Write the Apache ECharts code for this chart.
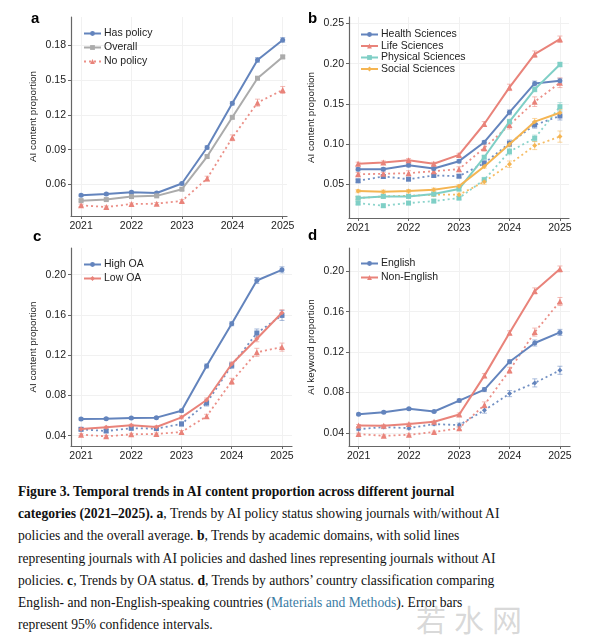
<!DOCTYPE html>
<html>
<head>
<meta charset="utf-8">
<script src="https://cdn.jsdelivr.net/npm/echarts@6/dist/echarts.min.js"></script>
<style>
html,body{margin:0;padding:0;background:#fff;}
#chart{position:absolute;left:0;top:0;width:600px;height:470px;}
#cap{position:absolute;left:18px;top:481px;width:590px;font-family:"Liberation Serif","Times New Roman",serif;font-size:13.6px;line-height:22.2px;color:#111;white-space:nowrap;}
#cap b{font-weight:bold;}
#cap .lk{color:#3a7ca5;}
#wm{position:absolute;left:416px;top:596px;font-family:"Noto Sans CJK SC",sans-serif;font-size:30px;letter-spacing:8px;color:rgba(170,170,170,0.45);}
</style>
</head>
<body>
<div id="chart"></div>
<div id="cap">
<b>Figure 3. Temporal trends in AI content proportion across different journal</b><br>
<b>categories (2021–2025). a</b>, Trends by AI policy status showing journals with/without AI<br>
policies and the overall average. <b>b</b>, Trends by academic domains, with solid lines<br>
representing journals with AI policies and dashed lines representing journals without AI<br>
policies. <b>c</b>, Trends by OA status. <b>d</b>, Trends by authors’ country classification comparing<br>
English- and non-English-speaking countries (<span class="lk">Materials and Methods</span>). Error bars<br>
represent 95% confidence intervals.
</div>
<div id="wm">若水网</div>
<script>
// x positions (half-year steps)
const years = [2021, 2021.5, 2022, 2022.5, 2023, 2023.5, 2024, 2024.5, 2025];
const yearTicks = [2021, 2022, 2023, 2024, 2025];

// Panel a
const aHasPolicy = [0.0508, 0.0519, 0.0534, 0.0528, 0.0609, 0.0919, 0.1298, 0.1671, 0.1843];
const aOverall   = [0.0462, 0.0471, 0.0497, 0.0503, 0.0560, 0.0841, 0.1178, 0.1514, 0.1697];
const aNoPolicy  = [0.0422, 0.0407, 0.0433, 0.0436, 0.0459, 0.0652, 0.1002, 0.1304, 0.1413];
// 95% CI half-widths
const aHasPolicyErr = [0.001, 0.001, 0.001, 0.001, 0.001, 0.0015, 0.0015, 0.002, 0.002];
const aOverallErr   = [0.0008, 0.0008, 0.0008, 0.0008, 0.001, 0.0012, 0.0012, 0.0015, 0.0015];
const aNoPolicyErr  = [0.001, 0.001, 0.001, 0.001, 0.0012, 0.002, 0.0025, 0.003, 0.003];
const aTicks = [0.06, 0.09, 0.12, 0.15, 0.18];

// Panel b (solid = with AI policy, dashed = without)
const bHealth     = [0.0686, 0.0686, 0.0736, 0.0695, 0.0786, 0.1022, 0.1394, 0.1754, 0.1788];
const bLife       = [0.0753, 0.0769, 0.0798, 0.0753, 0.0864, 0.1249, 0.1705, 0.2119, 0.2305];
const bPhysical   = [0.0326, 0.0347, 0.0347, 0.0376, 0.0438, 0.0835, 0.1278, 0.1680, 0.1990];
const bSocial     = [0.0413, 0.0405, 0.0413, 0.0430, 0.0475, 0.0719, 0.0997, 0.1278, 0.1390];
const bHealthNo   = [0.0541, 0.0595, 0.0562, 0.0608, 0.0599, 0.0761, 0.1009, 0.1237, 0.1349];
const bLifeNo     = [0.0624, 0.0628, 0.0637, 0.0661, 0.0686, 0.0951, 0.1237, 0.1527, 0.1763];
const bPhysicalNo = [0.0264, 0.0231, 0.0264, 0.0289, 0.0326, 0.0554, 0.0906, 0.1071, 0.1465];
const bSocialNo   = [0.0326, 0.0347, 0.0355, 0.0368, 0.0368, 0.0529, 0.0748, 0.0980, 0.1092];
const bHealthErr     = [0.002, 0.002, 0.002, 0.002, 0.002, 0.002, 0.003, 0.003, 0.003];
const bLifeErr       = [0.002, 0.002, 0.002, 0.002, 0.002, 0.003, 0.004, 0.004, 0.004];
const bPhysicalErr   = [0.002, 0.002, 0.002, 0.002, 0.002, 0.002, 0.003, 0.003, 0.003];
const bSocialErr     = [0.002, 0.002, 0.002, 0.002, 0.002, 0.002, 0.003, 0.004, 0.004];
const bHealthNoErr   = [0.002, 0.002, 0.002, 0.002, 0.002, 0.003, 0.004, 0.004, 0.005];
const bLifeNoErr     = [0.002, 0.002, 0.003, 0.003, 0.003, 0.004, 0.005, 0.006, 0.006];
const bPhysicalNoErr = [0.002, 0.002, 0.002, 0.002, 0.002, 0.003, 0.004, 0.004, 0.005];
const bSocialNoErr   = [0.002, 0.002, 0.002, 0.002, 0.002, 0.003, 0.004, 0.005, 0.007];
const bTicks = [0.05, 0.10, 0.15, 0.20, 0.25];

// Panel c
const cHighOA   = [0.0566, 0.0569, 0.0575, 0.0579, 0.0648, 0.1092, 0.1512, 0.1942, 0.2048];
const cLowOA    = [0.0466, 0.0483, 0.0503, 0.0486, 0.0582, 0.0754, 0.1112, 0.1363, 0.1621];
const cHighOANo = [0.0463, 0.0446, 0.0473, 0.0470, 0.0516, 0.0724, 0.1098, 0.1420, 0.1595];
const cLowOANo  = [0.0410, 0.0393, 0.0413, 0.0417, 0.0436, 0.0592, 0.0940, 0.1228, 0.1280];
const cHighOAErr   = [0.001, 0.001, 0.001, 0.001, 0.0015, 0.002, 0.002, 0.003, 0.003];
const cLowOAErr    = [0.001, 0.001, 0.001, 0.001, 0.0015, 0.002, 0.002, 0.003, 0.003];
const cHighOANoErr = [0.0015, 0.0015, 0.0015, 0.0015, 0.002, 0.003, 0.003, 0.004, 0.005];
const cLowOANoErr  = [0.001, 0.001, 0.001, 0.001, 0.0015, 0.002, 0.003, 0.004, 0.004];
const cTicks = [0.04, 0.08, 0.12, 0.16, 0.20];

// Panel d
const dEnglish      = [0.0584, 0.0604, 0.0637, 0.0611, 0.0719, 0.0828, 0.1104, 0.1289, 0.1394];
const dNonEnglish   = [0.0472, 0.0469, 0.0486, 0.0509, 0.0581, 0.0966, 0.1390, 0.1805, 0.2022];
const dEnglishNo    = [0.0436, 0.0456, 0.0446, 0.0486, 0.0476, 0.0624, 0.0788, 0.0894, 0.1019];
const dNonEnglishNo = [0.0387, 0.0370, 0.0380, 0.0407, 0.0446, 0.0676, 0.1019, 0.1397, 0.1700];
const dEnglishErr      = [0.001, 0.001, 0.001, 0.001, 0.0015, 0.002, 0.002, 0.003, 0.003];
const dNonEnglishErr   = [0.001, 0.001, 0.001, 0.001, 0.0015, 0.002, 0.002, 0.003, 0.003];
const dEnglishNoErr    = [0.0015, 0.0015, 0.0015, 0.0015, 0.002, 0.003, 0.003, 0.004, 0.004];
const dNonEnglishNoErr = [0.001, 0.001, 0.001, 0.001, 0.0015, 0.003, 0.003, 0.004, 0.004];
const dTicks = [0.04, 0.08, 0.12, 0.16, 0.20];

const BLUE = '#6384bd', RED = '#e9837a', GREY = '#ababab', TEAL = '#7fcfc6', ORANGE = '#f5b552';
const FONT = '"Liberation Sans", Arial, sans-serif';

function pts(vals){ return years.map((x,i)=>[x, vals[i]]); }

function line(name, vals, color, symbol, dashed, gi){
  return {
    name: name, type: 'line', xAxisIndex: gi, yAxisIndex: gi,
    data: pts(vals), symbol: symbol, symbolSize: symbol === 'triangle' ? 6 : 5,
    itemStyle: {color: color},
    lineStyle: {color: color, width: dashed ? 1.8 : 2, type: dashed ? [2, 3] : 'solid', opacity: dashed ? 0.9 : 1},
    emphasis: {disabled: true}, animation: false, z: dashed ? 3 : 4
  };
}

function errBars(vals, errs, color, gi){
  return {
    type: 'custom', xAxisIndex: gi, yAxisIndex: gi, silent: true, z: 2,
    data: years.map((x,i)=>[x, vals[i] - errs[i], vals[i] + errs[i]]),
    encode: {x: 0, y: [1, 2]},
    renderItem: function(params, api){
      const lo = api.coord([api.value(0), api.value(1)]);
      const hi = api.coord([api.value(0), api.value(2)]);
      const w = 2.5;
      const st = {stroke: color, lineWidth: 1, opacity: 0.55};
      return {type: 'group', children: [
        {type: 'line', shape: {x1: lo[0], y1: lo[1], x2: hi[0], y2: hi[1]}, style: st},
        {type: 'line', shape: {x1: lo[0]-w, y1: lo[1], x2: lo[0]+w, y2: lo[1]}, style: st},
        {type: 'line', shape: {x1: hi[0]-w, y1: hi[1], x2: hi[0]+w, y2: hi[1]}, style: st}
      ]};
    },
    animation: false
  };
}

const grids = [
  {left: 71, top: 17, width: 216, height: 199},
  {left: 349, top: 17, width: 220, height: 201},
  {left: 71, top: 248, width: 221, height: 198},
  {left: 349, top: 248, width: 221, height: 198}
];
const xr = [[2020.8, 2025.085], [2020.82, 2025.18], [2020.8, 2025.2], [2020.81, 2025.2]];
const yr = [[0.033, 0.204], [0.0078, 0.2582], [0.0297, 0.2265], [0.0269, 0.223]];
const yt = [aTicks, bTicks, cTicks, dTicks];
const yNames = ['AI content proportion', 'AI content proportion', 'AI content proportion', 'AI keyword proportion'];

const axisLine = {show: true, lineStyle: {color: '#666', width: 1.2}};
const gridLine = {show: true, lineStyle: {color: '#f1f1f1', width: 1}};
const xAxes = grids.map((g,i)=>({
  type: 'value', gridIndex: i, min: xr[i][0], max: xr[i][1],
  axisLine: axisLine,
  axisTick: {show: true, length: 3, customValues: yearTicks, lineStyle: {color: '#666'}},
  axisLabel: {customValues: yearTicks, fontFamily: FONT, fontSize: 10.5, color: '#222', margin: 5, formatter: v => String(v)},
  splitLine: gridLine
}));
const yAxes = grids.map((g,i)=>({
  type: 'value', gridIndex: i, min: yr[i][0], max: yr[i][1],
  name: yNames[i], nameLocation: 'middle', nameGap: 33, nameRotate: 90,
  nameTextStyle: {fontFamily: FONT, fontSize: 9.8, color: '#222'},
  axisLine: axisLine,
  axisTick: {show: true, length: 3, customValues: yt[i], lineStyle: {color: '#666'}},
  axisLabel: {customValues: yt[i], fontFamily: FONT, fontSize: 10.5, color: '#222', margin: 5, formatter: v => v.toFixed(2)},
  splitLine: gridLine
}));

const series = [
  errBars(aHasPolicy, aHasPolicyErr, BLUE, 0),
  errBars(aOverall, aOverallErr, GREY, 0),
  errBars(aNoPolicy, aNoPolicyErr, RED, 0),
  line('Has policy', aHasPolicy, BLUE, 'circle', false, 0),
  line('Overall', aOverall, GREY, 'rect', false, 0),
  line('No policy', aNoPolicy, RED, 'triangle', true, 0),

  errBars(bHealth, bHealthErr, BLUE, 1),
  errBars(bLife, bLifeErr, RED, 1),
  errBars(bPhysical, bPhysicalErr, TEAL, 1),
  errBars(bSocial, bSocialErr, ORANGE, 1),
  errBars(bHealthNo, bHealthNoErr, BLUE, 1),
  errBars(bLifeNo, bLifeNoErr, RED, 1),
  errBars(bPhysicalNo, bPhysicalNoErr, TEAL, 1),
  errBars(bSocialNo, bSocialNoErr, ORANGE, 1),
  line('Health Sciences (no policy)', bHealthNo, BLUE, 'rect', true, 1),
  line('Life Sciences (no policy)', bLifeNo, RED, 'triangle', true, 1),
  line('Physical Sciences (no policy)', bPhysicalNo, TEAL, 'rect', true, 1),
  line('Social Sciences (no policy)', bSocialNo, ORANGE, 'diamond', true, 1),
  line('Health Sciences', bHealth, BLUE, 'circle', false, 1),
  line('Life Sciences', bLife, RED, 'triangle', false, 1),
  line('Physical Sciences', bPhysical, TEAL, 'rect', false, 1),
  line('Social Sciences', bSocial, ORANGE, 'diamond', false, 1),

  errBars(cHighOA, cHighOAErr, BLUE, 2),
  errBars(cLowOA, cLowOAErr, RED, 2),
  errBars(cHighOANo, cHighOANoErr, BLUE, 2),
  errBars(cLowOANo, cLowOANoErr, RED, 2),
  line('High OA (no policy)', cHighOANo, BLUE, 'rect', true, 2),
  line('Low OA (no policy)', cLowOANo, RED, 'triangle', true, 2),
  line('High OA', cHighOA, BLUE, 'circle', false, 2),
  line('Low OA', cLowOA, RED, 'diamond', false, 2),

  errBars(dEnglish, dEnglishErr, BLUE, 3),
  errBars(dNonEnglish, dNonEnglishErr, RED, 3),
  errBars(dEnglishNo, dEnglishNoErr, BLUE, 3),
  errBars(dNonEnglishNo, dNonEnglishNoErr, RED, 3),
  line('English (no policy)', dEnglishNo, BLUE, 'diamond', true, 3),
  line('Non-English (no policy)', dNonEnglishNo, RED, 'triangle', true, 3),
  line('English', dEnglish, BLUE, 'circle', false, 3),
  line('Non-English', dNonEnglish, RED, 'triangle', false, 3)
];

function legend(names, left, top, gap){
  return {
    data: names, orient: 'vertical', left: left, top: top, itemWidth: 17, itemHeight: 6,
    itemGap: gap, selectedMode: false,
    textStyle: {fontFamily: FONT, fontSize: 10.5, color: '#222', padding: [0, 0, 0, -2]}
  };
}

const labelStyle = {fontFamily: FONT, fontSize: 15, fontWeight: 'bold', fill: '#000'};
const option = {
  backgroundColor: '#fff',
  animation: false,
  grid: grids,
  xAxis: xAxes,
  yAxis: yAxes,
  series: series,
  legend: [
    legend(['Has policy', 'Overall', 'No policy'], 78, 23, 3),
    legend(['Health Sciences', 'Life Sciences', 'Physical Sciences', 'Social Sciences'], 355, 24, 0.5),
    legend(['High OA', 'Low OA'], 78, 254, 3),
    legend(['English', 'Non-English'], 355, 253, 3)
  ],
  graphic: [
    {type: 'text', left: 31, top: 11, style: Object.assign({text: 'a'}, labelStyle)},
    {type: 'text', left: 308, top: 11, style: Object.assign({text: 'b'}, labelStyle)},
    {type: 'text', left: 33, top: 229, style: Object.assign({text: 'c'}, labelStyle)},
    {type: 'text', left: 308, top: 228, style: Object.assign({text: 'd'}, labelStyle)}
  ]
};

const chart = echarts.init(document.getElementById('chart'), null, {renderer: 'canvas'});
chart.setOption(option);
</script>
</body>
</html>
